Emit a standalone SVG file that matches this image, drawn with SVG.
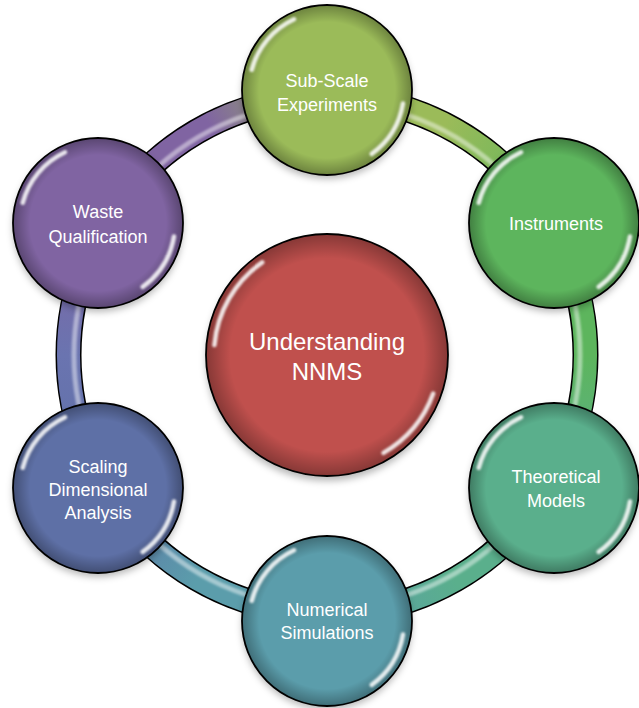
<svg xmlns="http://www.w3.org/2000/svg" xmlns:xlink="http://www.w3.org/1999/xlink" width="639" height="708" viewBox="0 0 639 708">
  <style>
    .lbl { font-family: "Liberation Sans", Arial, sans-serif; font-size: 18px; fill: #ffffff; text-anchor: middle; }
    .big { font-size: 24px; }
    .edge { fill: url(#rim); stroke: #000; stroke-width: 1.8; }
    .shadow { fill: #000; fill-opacity: 0.28; filter: url(#soft); }
    .hl { fill: none; stroke: #fff; stroke-width: 4.5; stroke-linecap: round; stroke-opacity: 0.85; filter: url(#glow); }
    .tube-out { fill: none; stroke: #000; stroke-width: 26; }
    .tube { fill: none; stroke-width: 23; }
    .tube-hl { fill: none; stroke: #fff; stroke-width: 5; stroke-opacity: 0.45; filter: url(#glow); }
  </style>
  <defs>
    <filter id="soft" x="-20%" y="-20%" width="140%" height="140%"><feGaussianBlur stdDeviation="3.5"/></filter>
    <filter id="glow" x="-50%" y="-50%" width="200%" height="200%"><feGaussianBlur stdDeviation="1.2"/></filter>
    <radialGradient id="rim">
      <stop offset="0.8" stop-color="#000" stop-opacity="0"/>
      <stop offset="1" stop-color="#000" stop-opacity="0.3"/>
    </radialGradient>
    <!-- ring segment gradients, from one node centre to the next (clockwise) -->
    <linearGradient id="g1" gradientUnits="userSpaceOnUse" x1="327" y1="90" x2="554" y2="223">
      <stop offset="0" stop-color="#9BBB59"/><stop offset="0.45" stop-color="#9BBB59"/><stop offset="1" stop-color="#5DB55D"/>
    </linearGradient>
    <linearGradient id="g2" gradientUnits="userSpaceOnUse" x1="554" y1="223" x2="554" y2="488">
      <stop offset="0" stop-color="#5DB55D"/><stop offset="0.5" stop-color="#5DB55D"/><stop offset="1" stop-color="#5AAF8C"/>
    </linearGradient>
    <linearGradient id="g3" gradientUnits="userSpaceOnUse" x1="554" y1="488" x2="327" y2="621">
      <stop offset="0" stop-color="#5AAF8C"/><stop offset="0.5" stop-color="#5AAF8C"/><stop offset="1" stop-color="#5B9DAB"/>
    </linearGradient>
    <linearGradient id="g4" gradientUnits="userSpaceOnUse" x1="327" y1="621" x2="98" y2="488">
      <stop offset="0" stop-color="#5B9DAB"/><stop offset="0.5" stop-color="#5B9DAB"/><stop offset="1" stop-color="#5E70A6"/>
    </linearGradient>
    <linearGradient id="g5" gradientUnits="userSpaceOnUse" x1="98" y1="488" x2="98" y2="223">
      <stop offset="0" stop-color="#5E70A6"/><stop offset="0.5" stop-color="#6A74B0"/><stop offset="1" stop-color="#8064A2"/>
    </linearGradient>
    <linearGradient id="g6" gradientUnits="userSpaceOnUse" x1="98" y1="223" x2="327" y2="90">
      <stop offset="0" stop-color="#8064A2"/><stop offset="0.55" stop-color="#8064A2"/><stop offset="1" stop-color="#9BBB59"/>
    </linearGradient>
    <!-- glossy rim highlights for the small and large discs -->
    <g id="gloss85">
      <path class="hl" d="M -75.3 -20.2 A 78 78 0 0 1 -33 -70.7"/>
      <path class="hl" d="M 76 13.4 A 78 78 0 0 1 44.7 63.9"/>
    </g>
    <g id="gloss121">
      <path class="hl" d="M -112.6 -9.9 A 113 113 0 0 1 -64.8 -92.6"/>
      <path class="hl" d="M 106.2 38.6 A 113 113 0 0 1 56.5 97.9"/>
    </g>
  </defs>

  <!-- connecting ring -->
  <g id="connectors">
    <circle class="tube-out" cx="327" cy="355" r="258.5"/>
    <path class="tube" stroke="url(#g1)" d="M 327 96.5 A 258.5 258.5 0 0 1 550.9 225.8"/>
    <path class="tube" stroke="url(#g2)" d="M 550.9 225.8 A 258.5 258.5 0 0 1 550.9 484.3"/>
    <path class="tube" stroke="url(#g3)" d="M 550.9 484.3 A 258.5 258.5 0 0 1 327 613.5"/>
    <path class="tube" stroke="url(#g4)" d="M 327 613.5 A 258.5 258.5 0 0 1 103.1 484.3"/>
    <path class="tube" stroke="url(#g5)" d="M 103.1 484.3 A 258.5 258.5 0 0 1 103.1 225.8"/>
    <path class="tube" stroke="url(#g6)" d="M 103.1 225.8 A 258.5 258.5 0 0 1 327 96.5"/>
    <circle class="tube-hl" cx="327" cy="355" r="253"/>
  </g>

  <g id="node-center" transform="translate(327,355)">
    <circle class="shadow" cx="0" cy="5" r="121"/>
    <circle r="121" fill="#C0504D"/>
    <circle class="edge" r="121"/>
    <use xlink:href="#gloss121"/>
    <text class="lbl big" x="0" y="-5">Understanding</text>
    <text class="lbl big" x="0" y="25">NNMS</text>
  </g>

  <g id="node-subscale" transform="translate(327,90)">
    <circle class="shadow" cx="0" cy="4" r="85"/>
    <circle r="85" fill="#9BBB59"/>
    <circle class="edge" r="85"/>
    <use xlink:href="#gloss85"/>
    <text class="lbl" x="0" y="-3">Sub-Scale</text>
    <text class="lbl" x="0" y="21">Experiments</text>
  </g>

  <g id="node-instruments" transform="translate(554,223)">
    <circle class="shadow" cx="0" cy="4" r="85"/>
    <circle r="85" fill="#5DB55D"/>
    <circle class="edge" r="85"/>
    <use xlink:href="#gloss85"/>
    <text class="lbl" x="2" y="7">Instruments</text>
  </g>

  <g id="node-theoretical" transform="translate(554,488)">
    <circle class="shadow" cx="0" cy="4" r="85"/>
    <circle r="85" fill="#5AAF8C"/>
    <circle class="edge" r="85"/>
    <use xlink:href="#gloss85"/>
    <text class="lbl" x="2" y="-5">Theoretical</text>
    <text class="lbl" x="2" y="19">Models</text>
  </g>

  <g id="node-numerical" transform="translate(327,621)">
    <circle class="shadow" cx="0" cy="4" r="85"/>
    <circle r="85" fill="#5B9DAB"/>
    <circle class="edge" r="85"/>
    <use xlink:href="#gloss85"/>
    <text class="lbl" x="0" y="-5">Numerical</text>
    <text class="lbl" x="0" y="18">Simulations</text>
  </g>

  <g id="node-scaling" transform="translate(98,488)">
    <circle class="shadow" cx="0" cy="4" r="85"/>
    <circle r="85" fill="#5E70A6"/>
    <circle class="edge" r="85"/>
    <use xlink:href="#gloss85"/>
    <text class="lbl" x="0" y="-15">Scaling</text>
    <text class="lbl" x="0" y="8">Dimensional</text>
    <text class="lbl" x="0" y="31">Analysis</text>
  </g>

  <g id="node-waste" transform="translate(98,223)">
    <circle class="shadow" cx="0" cy="4" r="85"/>
    <circle r="85" fill="#8064A2"/>
    <circle class="edge" r="85"/>
    <use xlink:href="#gloss85"/>
    <text class="lbl" x="0" y="-5">Waste</text>
    <text class="lbl" x="0" y="20">Qualification</text>
  </g>
</svg>
